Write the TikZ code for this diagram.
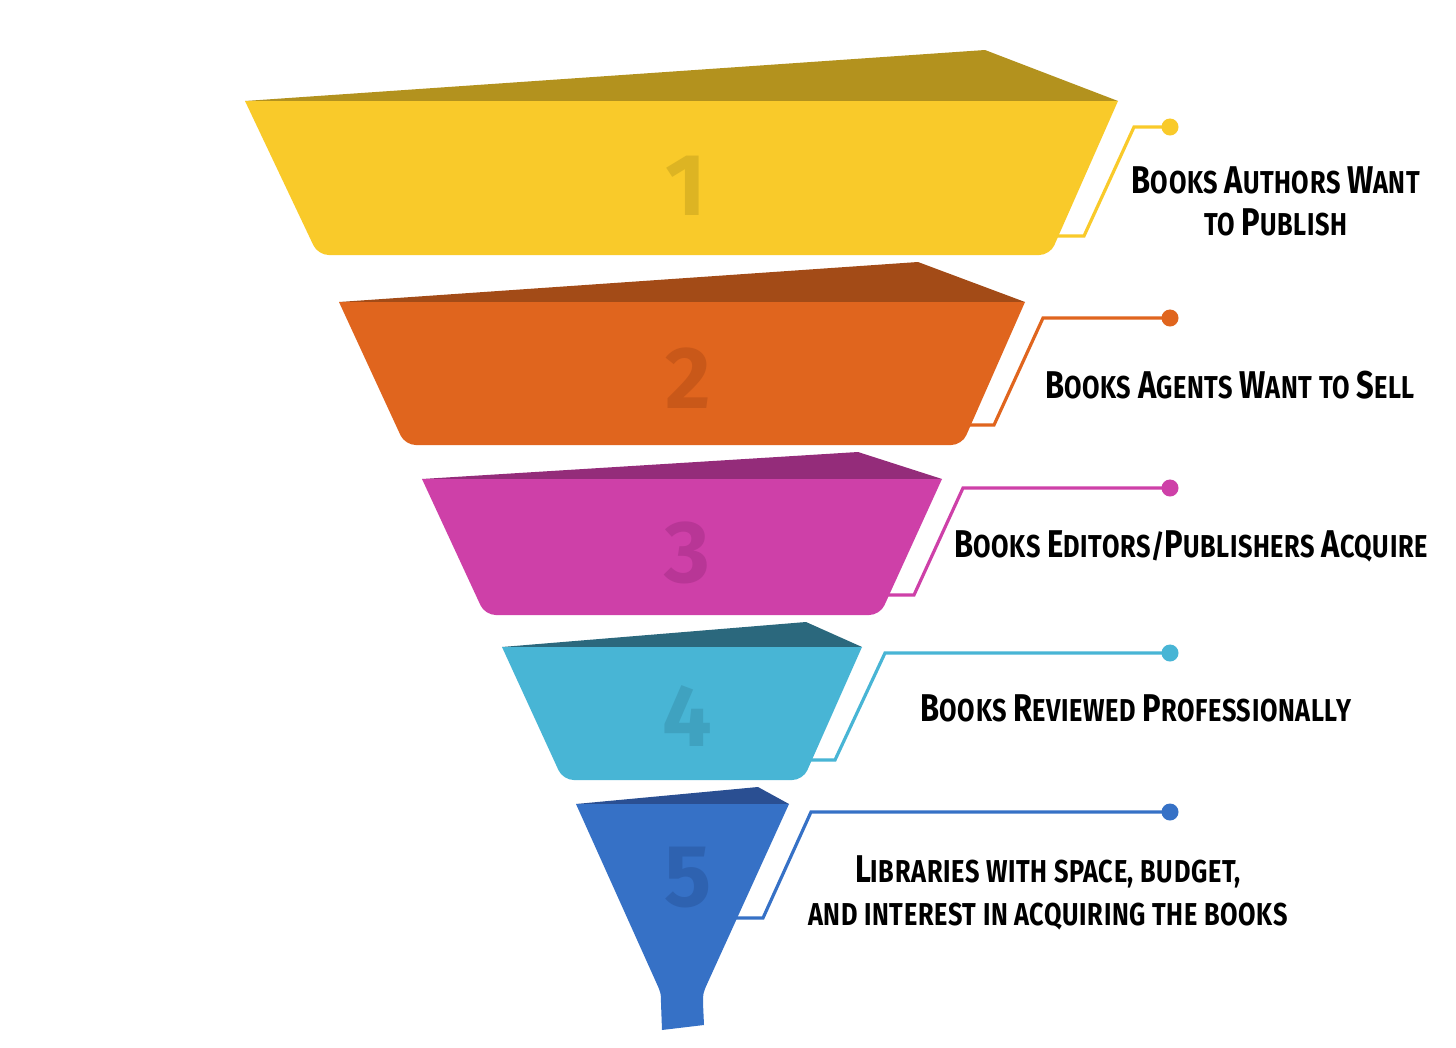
\documentclass[tikz,border=0pt]{standalone}
\usepackage{fontspec}
\newfontfamily\lab{Fira Sans}[FakeStretch=0.8,LetterSpace=2]
\newfontfamily\numf{Fira Sans}
\newcommand\SC[2]{{\fontsize{11}{13}\selectfont #1}#2}
\definecolor{yF}{HTML}{F9CA2A}\definecolor{yT}{HTML}{B3921E}\definecolor{yN}{HTML}{DDB423}
\definecolor{oF}{HTML}{E0651E}\definecolor{oT}{HTML}{A34B17}\definecolor{oN}{HTML}{C95819}
\definecolor{mF}{HTML}{CE40A8}\definecolor{mT}{HTML}{942C7A}\definecolor{mN}{HTML}{B83696}
\definecolor{cF}{HTML}{48B5D5}\definecolor{cT}{HTML}{2B687D}\definecolor{cN}{HTML}{3FA2C0}
\definecolor{bF}{HTML}{3671C6}\definecolor{bT}{HTML}{2A4F92}\definecolor{bN}{HTML}{2E62B0}
\begin{document}
\begin{tikzpicture}[x=0.01cm,y=-0.01cm,
  conn/.style={line width=0.9pt},
  dotnode/.style={circle,inner sep=0pt,minimum size=0.17cm},
  numnode/.style={font=\numf\bfseries\fontsize{25}{25}\selectfont},
  labnode/.style={font=\lab\bfseries\fontsize{9}{12}\selectfont,align=center,text=black}]
\useasboundingbox[fill=white] (0,0) rectangle (1456,1048);

% connectors
\coordinate (a1) at (1040,236); \coordinate (b1) at (1084,236); \coordinate (c1) at (1134,127);
\node[dotnode,fill=yF] (d1) at (1170,127) {};
\draw[conn,yF] (a1) -- (b1) -- (c1) -- (d1.center);
\coordinate (a2) at (950,425); \coordinate (b2) at (994,425); \coordinate (c2) at (1043,318);
\node[dotnode,fill=oF] (d2) at (1170,318) {};
\draw[conn,oF] (a2) -- (b2) -- (c2) -- (d2.center);
\coordinate (a3) at (870,595); \coordinate (b3) at (914,595); \coordinate (c3) at (963,488);
\node[dotnode,fill=mF] (d3) at (1170,488) {};
\draw[conn,mF] (a3) -- (b3) -- (c3) -- (d3.center);
\coordinate (a4) at (795,760); \coordinate (b4) at (835,760); \coordinate (c4) at (885,653);
\node[dotnode,fill=cF] (d4) at (1170,653) {};
\draw[conn,cF] (a4) -- (b4) -- (c4) -- (d4.center);
\coordinate (a5) at (725,918); \coordinate (b5) at (763,918); \coordinate (c5) at (811,812);
\node[dotnode,fill=bF] (d5) at (1170,812) {};
\draw[conn,bF] (a5) -- (b5) -- (c5) -- (d5.center);

% tier 1
\fill[yT] (245,101) -- (985,50) -- (1118,101) -- cycle;
\fill[yF] (245,101) -- (1118,101) [rounded corners=3pt] -- (1050,255) -- (318,255) [sharp corners] -- cycle;
% tier 2
\fill[oT] (339,302) -- (918,262) -- (1025,302) -- cycle;
\fill[oF] (339,302) -- (1025,302) [rounded corners=3pt] -- (962,445) -- (405,445) [sharp corners] -- cycle;
% tier 3
\fill[mT] (422,479) -- (858,452) -- (942,479) -- cycle;
\fill[mF] (422,479) -- (942,479) [rounded corners=3pt] -- (880,615) -- (485,615) [sharp corners] -- cycle;
% tier 4
\fill[cT] (502,647) -- (806,622) -- (862,647) -- cycle;
\fill[cF] (502,647) -- (862,647) [rounded corners=3pt] -- (803,780) -- (563,780) [sharp corners] -- cycle;
% tier 5 funnel
\fill[bT] (576,804) -- (758,787) -- (789,804) -- cycle;
\fill[bF] (576,804) -- (789,804) -- (708,982) .. controls (703,993) .. (703,1003) -- (704,1025) -- (662,1030) -- (661,1003) .. controls (661,993) .. (656,982) -- cycle;

% numbers
\node[numnode,text=yN] (n1) at (686,186) {1};
\node[numnode,text=oN] (n2) at (688,378) {2};
\node[numnode,text=mN] (n3) at (687,553) {3};
\node[numnode,text=cN] (n4) at (687,716) {4};
\node[numnode,text=bN] (n5) at (688,878) {5};

% labels
\node[labnode] (t1) at (1276,201) {\SC{B}{OOKS} \SC{A}{UTHORS} \SC{W}{ANT}\\TO \SC{P}{UBLISH}};
\node[labnode] (t2) at (1230,385) {\SC{B}{OOKS} \SC{A}{GENTS} \SC{W}{ANT} TO \SC{S}{ELL}};
\node[labnode] (t3) at (1191,546) {\SC{B}{OOKS} \SC{E}{DITORS}/\SC{P}{UBLISHERS} \SC{A}{CQUIRE}};
\node[labnode] (t4) at (1136,708) {\SC{B}{OOKS} \SC{R}{EVIEWED} \SC{P}{ROFESSIONALLY}};
\node[labnode] (t5) at (1048,893) {\SC{L}{IBRARIES} WITH SPACE, BUDGET,\\AND INTEREST IN ACQUIRING THE BOOKS};
\end{tikzpicture}
\end{document}
